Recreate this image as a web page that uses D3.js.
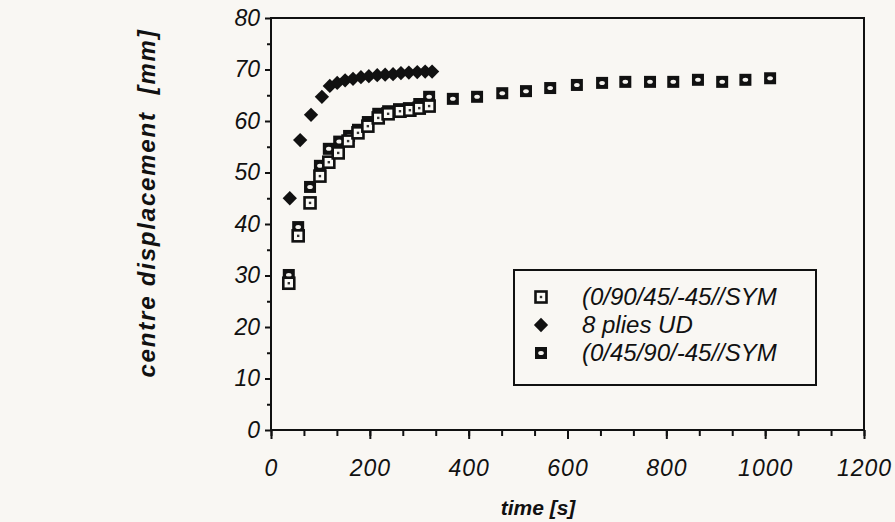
<!DOCTYPE html>
<html>
<head>
<meta charset="utf-8">
<script src="https://cdn.jsdelivr.net/npm/d3@7"></script>
<style>
  body { margin: 0; background: #f9f7f3; }
  text { font-family: "Liberation Sans", Arial, sans-serif; font-style: italic; fill: #111; }
  .tick text { font-size: 23px; }
  .axis-title { font-weight: bold; }
  .legend text { font-size: 24px; }
</style>
</head>
<body>
<div id="chart"></div>
<script>
// series 1: (0/90/45/-45//SYM  - open square with a dot
var s1Time = [36, 55, 79, 99, 117, 136, 156, 176, 196, 217, 237, 261, 281, 300, 320];
var s1Disp = [28.5, 37.7, 44.1, 49.3, 52.0, 53.8, 56.1, 57.7, 59.0, 60.6, 61.4, 61.9, 62.1, 62.5, 62.9];

// series 2: 8 plies UD - filled diamond
var s2Time = [38, 59, 81, 103, 119, 134, 150, 166, 182, 198, 215, 231, 247, 263, 279, 296, 312, 326];
var s2Disp = [45.0, 56.3, 61.2, 64.7, 66.8, 67.4, 67.9, 68.2, 68.5, 68.7, 68.9, 69.0, 69.1, 69.3, 69.4, 69.5, 69.6, 69.6];

// series 3: (0/45/90/-45//SYM - filled square
var s3Time = [36, 55, 79, 99, 117, 138, 158, 176, 196, 217, 237, 259, 279, 300, 320,
              368, 417, 468, 516, 565, 619, 670, 717, 767, 814, 864, 913, 960, 1010];
var s3Disp = [30.1, 39.4, 47.2, 51.3, 54.6, 56.0, 57.1, 58.3, 59.8, 61.4, 61.9, 62.3, 62.5, 63.3, 64.7,
              64.3, 64.7, 65.4, 65.8, 66.4, 67.0, 67.4, 67.6, 67.6, 67.6, 68.0, 67.6, 68.0, 68.3];

var legendLabels = ['(0/90/45/-45//SYM', '8 plies UD', '(0/45/90/-45//SYM'];
var xTicks = [0, 200, 400, 600, 800, 1000, 1200];
var yTicks = [0, 10, 20, 30, 40, 50, 60, 70, 80];

var width  = 895;
var height = 522;
// plot box in pixels (don't call these top/left, window.top is read only)
var pLeft = 271, pRight = 864, pTop = 18, pBottom = 430;

var svg = d3.select('#chart').append('svg')
            .attr('width', width)
            .attr('height', height);

var x = d3.scaleLinear().domain([0, 1200]).range([pLeft, pRight]);
var y = d3.scaleLinear().domain([0, 80]).range([pBottom, pTop]);

// frame
svg.append('rect')
   .attr('x', pLeft).attr('y', pTop)
   .attr('width', pRight - pLeft).attr('height', pBottom - pTop)
   .attr('fill', 'none').attr('stroke', '#111').attr('stroke-width', 2);

// minor ticks first, majors on top
var xMinor = d3.range(0, 1201, 200 / 3);
svg.append('g')
   .attr('transform', 'translate(0,' + pBottom + ')')
   .call(d3.axisBottom(x).tickValues(xMinor).tickSize(6).tickFormat(''))
   .call(function(g) { g.select('.domain').remove(); });
svg.append('g')
   .attr('transform', 'translate(0,' + pBottom + ')')
   .call(d3.axisBottom(x).tickValues(xTicks).tickSize(9).tickPadding(21).tickFormat(d3.format('d')))
   .call(function(g) { g.select('.domain').remove(); })
   .selectAll('text').attr('font-family', null).attr('font-size', null)
   .attr('letter-spacing', 1);

var yMinor = d3.range(5, 80, 10);
svg.append('g')
   .attr('transform', 'translate(' + pLeft + ',0)')
   .call(d3.axisLeft(y).tickValues(yMinor).tickSize(4).tickFormat(''))
   .call(function(g) { g.select('.domain').remove(); });
svg.append('g')
   .attr('transform', 'translate(' + pLeft + ',0)')
   .call(d3.axisLeft(y).tickValues(yTicks).tickSize(6).tickPadding(5))
   .call(function(g) { g.select('.domain').remove(); })
   .selectAll('text').attr('font-family', null).attr('font-size', null);

svg.selectAll('.tick line').attr('stroke', '#111').attr('stroke-width', 2);

// axis titles
svg.append('text').attr('class', 'axis-title')
   .attr('x', 538).attr('y', 515)
   .attr('text-anchor', 'middle')
   .attr('font-size', 21)
   .text('time [s]');
svg.append('text').attr('class', 'axis-title')
   .attr('transform', 'translate(155,203) rotate(-90)')
   .attr('text-anchor', 'middle')
   .attr('font-size', 24)
   .attr('letter-spacing', 1.8)
   .attr('xml:space', 'preserve')
   .text('centre displacement  [mm]');

// markers
function openSquare(g, px, py) {
  g.append('rect').attr('x', px - 5.5).attr('y', py - 5.5).attr('width', 11).attr('height', 11)
   .attr('fill', '#fbfaf6').attr('stroke', '#111').attr('stroke-width', 2.6);
  g.append('rect').attr('x', px - 1.2).attr('y', py - 1.2).attr('width', 2.4).attr('height', 2.4)
   .attr('fill', '#333');
}
function fullSquare(g, px, py) {
  g.append('rect').attr('x', px - 6).attr('y', py - 6).attr('width', 12).attr('height', 12)
   .attr('fill', '#111');
  g.append('ellipse').attr('cx', px).attr('cy', py).attr('rx', 2.8).attr('ry', 2)
   .attr('fill', '#f4f2ee');
}
function diamond(g, px, py) {
  g.append('path').attr('d', d3.symbol(d3.symbolDiamond2, 130)())
   .attr('transform', 'translate(' + px + ',' + py + ')')
   .attr('fill', '#111');
}

var pts = svg.append('g');
s3Time.forEach(function(t, i) { fullSquare(pts, x(t), y(s3Disp[i])); });
s1Time.forEach(function(t, i) { openSquare(pts, x(t), y(s1Disp[i])); });
s2Time.forEach(function(t, i) { diamond(pts, x(t), y(s2Disp[i])); });

// legend
var legend = svg.append('g').attr('class', 'legend');
legend.append('rect')
      .attr('x', 514).attr('y', 270).attr('width', 302).attr('height', 115)
      .attr('fill', '#f9f7f3').attr('stroke', '#111').attr('stroke-width', 2);
var rowY = [297, 325, 353];
openSquare(legend, 541, rowY[0]);
diamond(legend, 541, rowY[1]);
fullSquare(legend, 541, rowY[2]);
legend.selectAll('text.lab').data(legendLabels).enter()
      .append('text').attr('class', 'lab')
      .attr('x', 582)
      .attr('y', function(d, i) { return rowY[i] + 8; })
      .text(function(d) { return d; });
</script>
</body>
</html>
